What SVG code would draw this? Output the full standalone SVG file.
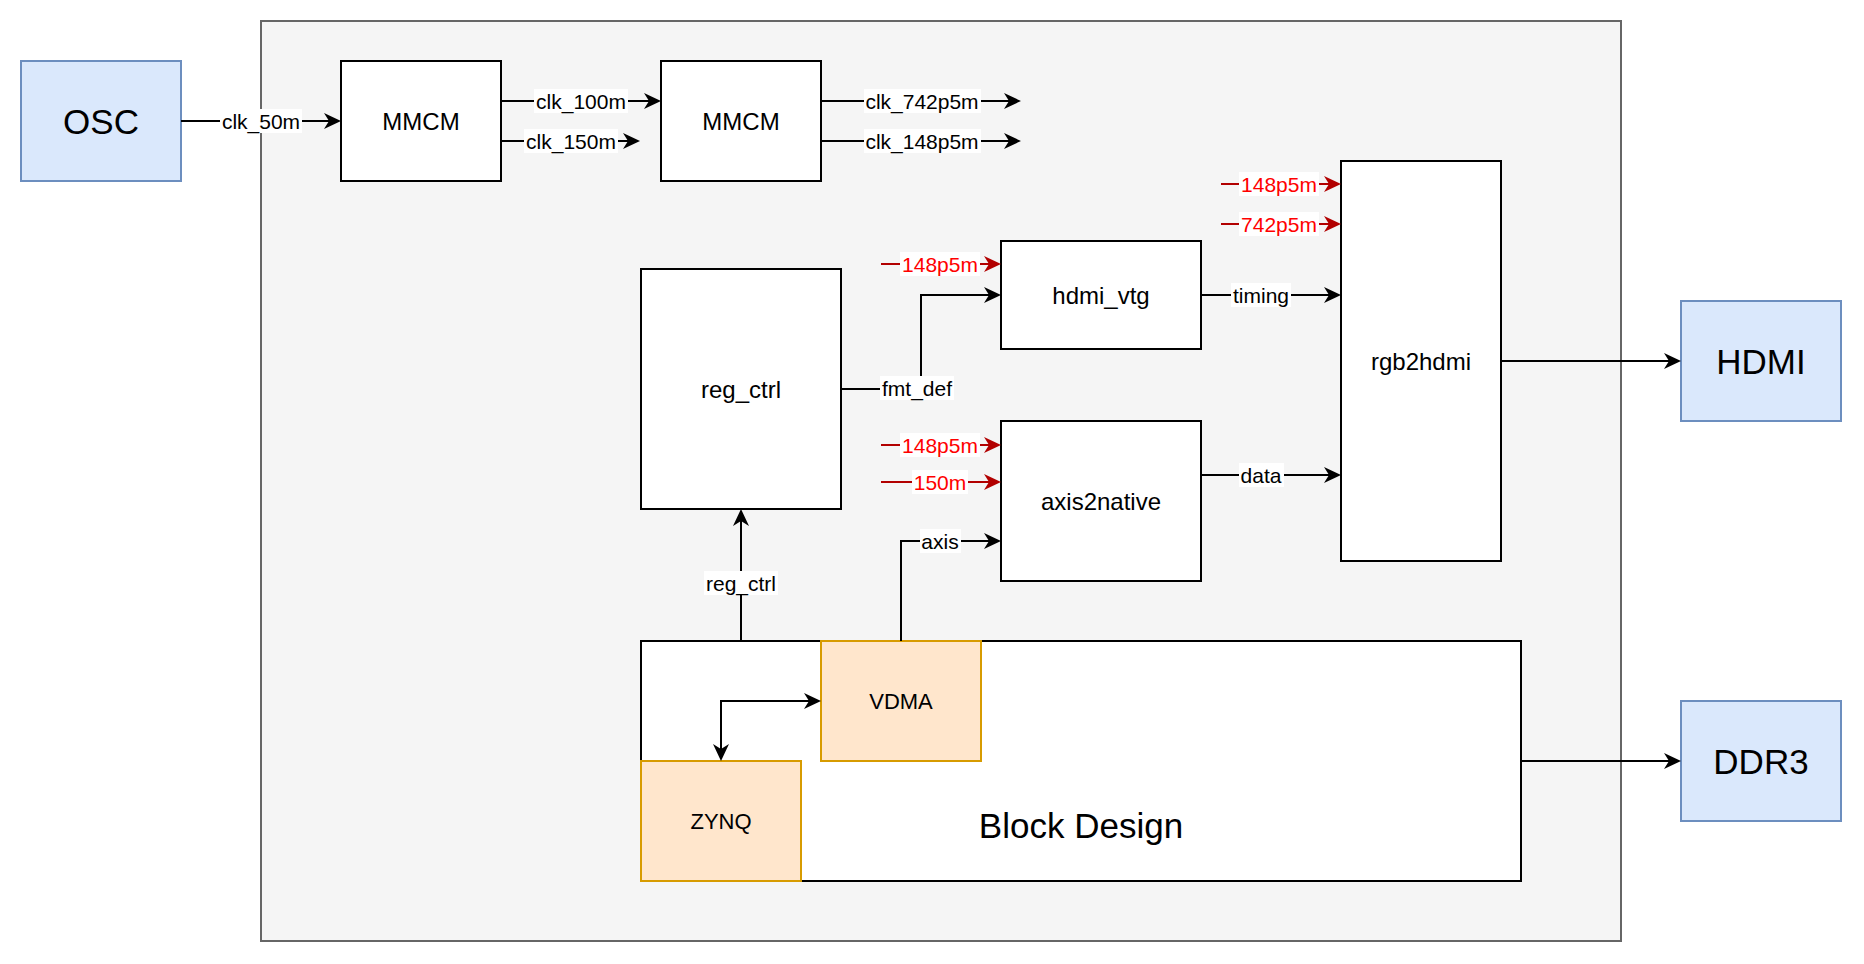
<svg xmlns="http://www.w3.org/2000/svg" width="1864" height="964" viewBox="0 0 1864 964">
<style>
text{font-family:"Liberation Sans",Arial,Helvetica,sans-serif;text-anchor:middle;dominant-baseline:central;fill:#000}
.box{fill:#fff;stroke:#000;stroke-width:2}
.ext{fill:#dae8fc;stroke:#6c8ebf;stroke-width:2}
.ip{fill:#ffe6cc;stroke:#d79b00;stroke-width:2}
.big{font-size:35px}
.mid{font-size:24px}
.sm{font-size:22px}
.lbl{font-size:21px}
.red{fill:#ff0000}
.lb{fill:#fff}
.c{fill:none;stroke:#000;stroke-width:2;marker-end:url(#ah)}
.cr{fill:none;stroke:#b20000;stroke-width:2;marker-end:url(#ahr)}
</style>
<defs>
<marker id="ah" viewBox="0 0 17 16" refX="9" refY="8" markerWidth="17" markerHeight="16" markerUnits="userSpaceOnUse" orient="auto-start-reverse"><path d="M0,0 L17,8 L0,16 L5,8 Z" fill="#000"/></marker>
<marker id="ahr" viewBox="0 0 17 16" refX="9" refY="8" markerWidth="17" markerHeight="16" markerUnits="userSpaceOnUse" orient="auto"><path d="M0,0 L17,8 L0,16 L5,8 Z" fill="#b20000"/></marker>
</defs>
<rect width="1864" height="964" fill="#fff"/>
<g id="container"><rect x="261" y="21" width="1360" height="920" fill="#f5f5f5" stroke="#666666" stroke-width="2"/></g>
<g id="osc"><rect class="ext" x="21" y="61" width="160" height="120"/><text class="big" x="101" y="121">OSC</text></g>
<g id="mmcm1"><rect class="box" x="341" y="61" width="160" height="120"/><text class="mid" x="421" y="121">MMCM</text></g>
<g id="mmcm2"><rect class="box" x="661" y="61" width="160" height="120"/><text class="mid" x="741" y="121">MMCM</text></g>
<g id="reg_ctrl"><rect class="box" x="641" y="269" width="200" height="240"/><text class="mid" x="741" y="389">reg_ctrl</text></g>
<g id="hdmi_vtg"><rect class="box" x="1001" y="241" width="200" height="108"/><text class="mid" x="1101" y="295">hdmi_vtg</text></g>
<g id="axis2native"><rect class="box" x="1001" y="421" width="200" height="160"/><text class="mid" x="1101" y="501">axis2native</text></g>
<g id="rgb2hdmi"><rect class="box" x="1341" y="161" width="160" height="400"/><text class="mid" x="1421" y="361">rgb2hdmi</text></g>
<g id="hdmi"><rect class="ext" x="1681" y="301" width="160" height="120"/><text class="big" x="1761" y="361">HDMI</text></g>
<g id="ddr3"><rect class="ext" x="1681" y="701" width="160" height="120"/><text class="big" x="1761" y="761">DDR3</text></g>
<g id="block_design"><rect class="box" x="641" y="641" width="880" height="240"/><text class="big" x="1081" y="825">Block Design</text></g>
<g id="vdma"><rect class="ip" x="821" y="641" width="160" height="120"/><text class="sm" x="901" y="701">VDMA</text></g>
<g id="zynq"><rect class="ip" x="641" y="761" width="160" height="120"/><text class="sm" x="721" y="821">ZYNQ</text></g>
<g id="connectors">
<path class="c" d="M181,121 H333"/>
<path class="c" d="M501,101 H653"/>
<path class="c" d="M501,141 H632"/>
<path class="c" d="M821,101 H1013"/>
<path class="c" d="M821,141 H1013"/>
<path class="cr" d="M881,264 H993"/>
<path class="c" d="M841,389 H921 V295 H993"/>
<path class="cr" d="M881,445 H993"/>
<path class="cr" d="M881,482 H993"/>
<path class="c" d="M901,641 V541 H993"/>
<path class="c" d="M741,641 V517"/>
<path class="c" d="M1201,295 H1333"/>
<path class="c" d="M1201,475 H1333"/>
<path class="cr" d="M1221,184 H1333"/>
<path class="cr" d="M1221,224 H1333"/>
<path class="c" d="M1501,361 H1673"/>
<path class="c" d="M1521,761 H1673"/>
<path class="c" d="M721,753 V701 H813" style="marker-start:url(#ah)"/>
</g>
<g id="labels">
<rect class="lb" x="220" y="109" width="82" height="24"/><text class="lbl" x="261" y="121">clk_50m</text>
<rect class="lb" x="534" y="89" width="94" height="24"/><text class="lbl" x="581" y="101">clk_100m</text>
<rect class="lb" x="524" y="129" width="94" height="24"/><text class="lbl" x="571" y="141">clk_150m</text>
<rect class="lb" x="864" y="89" width="117" height="24"/><text class="lbl" x="922" y="101">clk_742p5m</text>
<rect class="lb" x="864" y="129" width="117" height="24"/><text class="lbl" x="922" y="141">clk_148p5m</text>
<rect class="lb" x="900" y="252" width="80" height="24"/><text class="lbl red" x="940" y="264">148p5m</text>
<rect class="lb" x="880" y="376" width="74" height="24"/><text class="lbl" x="917" y="388">fmt_def</text>
<rect class="lb" x="900" y="433" width="80" height="24"/><text class="lbl red" x="940" y="445">148p5m</text>
<rect class="lb" x="912" y="470" width="56" height="24"/><text class="lbl red" x="940" y="482">150m</text>
<rect class="lb" x="920" y="529" width="41" height="24"/><text class="lbl" x="940" y="541">axis</text>
<rect class="lb" x="704" y="571" width="74" height="24"/><text class="lbl" x="741" y="583">reg_ctrl</text>
<rect class="lb" x="1231" y="283" width="60" height="24"/><text class="lbl" x="1261" y="295">timing</text>
<rect class="lb" x="1239" y="463" width="45" height="24"/><text class="lbl" x="1261" y="475">data</text>
<rect class="lb" x="1239" y="172" width="80" height="24"/><text class="lbl red" x="1279" y="184">148p5m</text>
<rect class="lb" x="1239" y="212" width="80" height="24"/><text class="lbl red" x="1279" y="224">742p5m</text>
</g>
</svg>
